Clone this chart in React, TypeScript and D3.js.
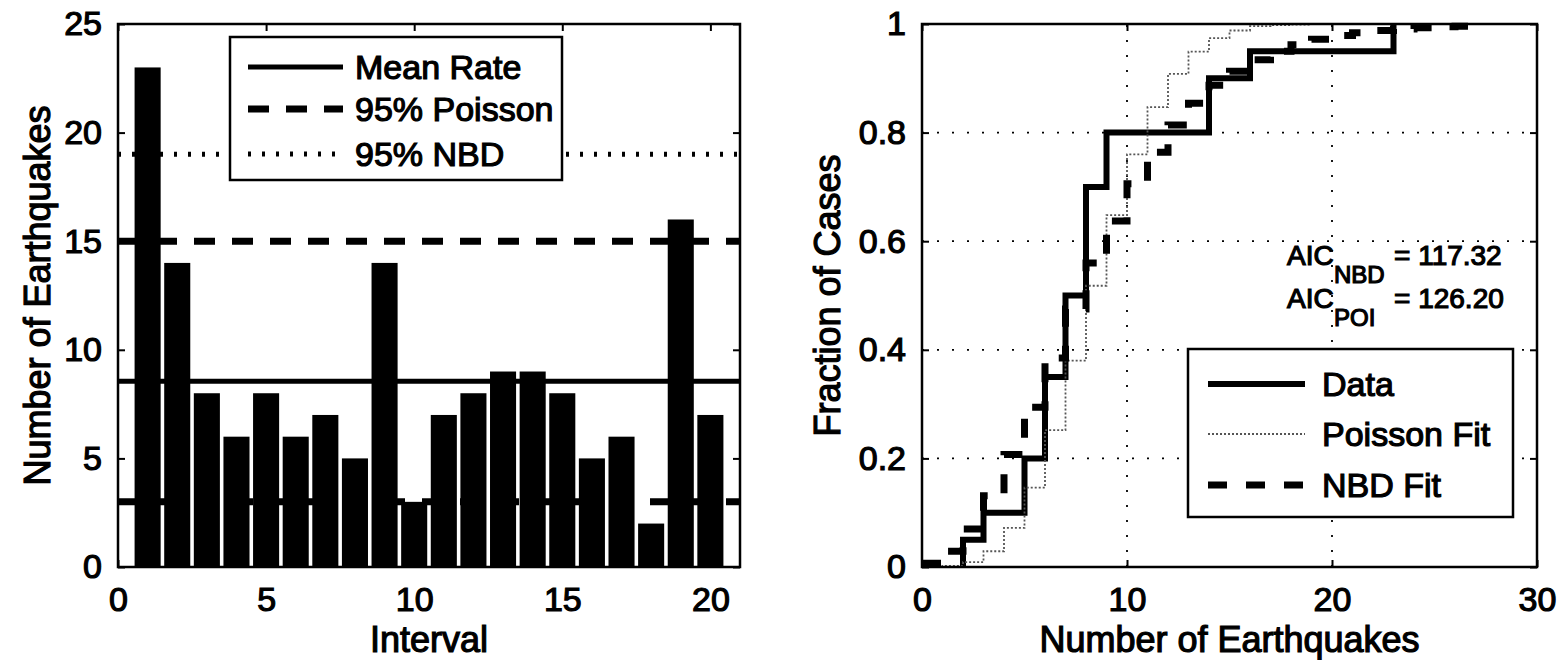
import React, { useRef, useEffect } from "react";
import * as d3 from "d3";

// left panel: earthquakes per interval
const intervals = [1, 2, 3, 4, 5, 6, 7, 8, 9, 10, 11, 12, 13, 14, 15, 16, 17, 18, 19, 20];
const counts = [23, 14, 8, 6, 8, 6, 7, 5, 14, 3, 7, 8, 9, 9, 8, 5, 6, 2, 16, 7];
const meanRate = 8.55;
const poissonBounds = [3, 15];
const nbdBounds = [19];
const leftLegend = ["Mean Rate", "95% Poisson", "95% NBD"];
const leftXTicks = [0, 5, 10, 15, 20];
const leftYTicks = [0, 5, 10, 15, 20, 25];

// right panel: cumulative fraction of cases
const fitK = [0, 1, 2, 3, 4, 5, 6, 7, 8, 9, 10, 11, 12, 13, 14, 15, 16, 17, 18, 19, 20, 21, 22, 23, 24, 25, 26, 27];
const poissonCdf = [0.0, 0.002, 0.009, 0.029, 0.072, 0.146, 0.252, 0.38, 0.518, 0.648, 0.76, 0.847, 0.908, 0.949, 0.974, 0.988, 0.996, 0.998, 0.999, 1, 1, 1, 1, 1, 1, 1, 1, 1];
const nbdCdf = [0.007, 0.029, 0.07, 0.131, 0.207, 0.294, 0.385, 0.475, 0.56, 0.637, 0.706, 0.764, 0.814, 0.854, 0.887, 0.913, 0.934, 0.95, 0.962, 0.972, 0.979, 0.984, 0.988, 0.991, 0.993, 0.995, 0.996, 0.997];
const rightLegend = ["Data", "Poisson Fit", "NBD Fit"];
const rightXTicks = [0, 10, 20, 30];
const rightYTicks = [0, 0.2, 0.4, 0.6, 0.8, 1];
const aicRows = [
  { sub: "NBD", value: "= 117.32" },
  { sub: "POI", value: "= 126.20" },
];

const FONT = "'Liberation Sans', Arial, Helvetica, sans-serif";

function App() {
  const svgRef = useRef<SVGSVGElement>(null);
  const width = 1558;
  const height = 660;

  useEffect(() => {
    const svg = d3.select(svgRef.current);
    svg.selectAll("*").remove();

    // scanned print looks heavy, so give the glyphs a thin outline
    const heavy = (sel: any) =>
      sel.attr("font-family", FONT).attr("fill", "#000").attr("stroke", "#000").attr("stroke-width", 1.2);

    // frame with inward ticks on all four sides
    const drawFrame = (x: any, y: any, xTicks: number[], yTicks: number[], yFmt: (d: any) => string) => {
      const [x0, x1] = x.range();
      const [y0, y1] = y.range();
      const g = svg.append("g");
      const ax = [
        g.append("g").attr("transform", `translate(0,${y0})`).call(d3.axisBottom(x).tickValues(xTicks).tickSizeInner(-7).tickSizeOuter(0).tickPadding(20).tickFormat(d3.format("d"))),
        g.append("g").attr("transform", `translate(0,${y1})`).call(d3.axisTop(x).tickValues(xTicks).tickSizeInner(-7).tickSizeOuter(0).tickFormat(() => "")),
        g.append("g").attr("transform", `translate(${x0},0)`).call(d3.axisLeft(y).tickValues(yTicks).tickSizeInner(-7).tickSizeOuter(0).tickPadding(16).tickFormat(yFmt)),
        g.append("g").attr("transform", `translate(${x1},0)`).call(d3.axisRight(y).tickValues(yTicks).tickSizeInner(-7).tickSizeOuter(0).tickFormat(() => "")),
      ];
      ax.forEach((a) => {
        a.select(".domain").remove();
        a.selectAll("line").attr("stroke-width", 2);
        a.selectAll("text").attr("font-size", 34).call(heavy);
      });
      g.append("rect")
        .attr("x", x0)
        .attr("y", y1)
        .attr("width", x1 - x0)
        .attr("height", y0 - y1)
        .attr("fill", "none")
        .attr("stroke", "#000")
        .attr("stroke-width", 2.5);
    };

    const legend = (box: number[], rows: string[], styles: any[], lineX: number[], textX: number, rowY: number[]) => {
      const g = svg.append("g");
      g.append("rect")
        .attr("x", box[0])
        .attr("y", box[1])
        .attr("width", box[2] - box[0])
        .attr("height", box[3] - box[1])
        .attr("fill", "#fff")
        .attr("stroke", "#000")
        .attr("stroke-width", 2.5);
      rows.forEach((label, i) => {
        const s = styles[i];
        g.append("line")
          .attr("x1", lineX[0])
          .attr("x2", lineX[1])
          .attr("y1", rowY[i])
          .attr("y2", rowY[i])
          .attr("stroke", s.color)
          .attr("stroke-width", s.width)
          .attr("stroke-dasharray", s.dash);
        g.append("text")
          .attr("x", textX)
          .attr("y", rowY[i] + 12)
          .attr("font-size", 34)
          .call(heavy)
          .text(label);
      });
    };

    // ---------- left panel ----------
    const xL = d3.scaleLinear().domain([0, 21]).range([118, 740]);
    const yL = d3.scaleLinear().domain([0, 25]).range([567, 24]);
    const barW = 0.88;

    svg
      .append("g")
      .selectAll("rect")
      .data(intervals)
      .join("rect")
      .attr("x", (d) => xL(d - barW / 2))
      .attr("width", xL(barW) - xL(0))
      .attr("y", (d, i) => yL(counts[i]))
      .attr("height", (d, i) => yL(0) - yL(counts[i]))
      .attr("fill", "#000");

    const hline = d3
      .line<number[]>()
      .x((d) => xL(d[0]))
      .y((d) => yL(d[1]));
    const addH = (v: number, color: string, w: number, dash: string) =>
      svg
        .append("path")
        .attr("d", hline([[0, v], [21, v]]))
        .attr("fill", "none")
        .attr("stroke", color)
        .attr("stroke-width", w)
        .attr("stroke-dasharray", dash);

    const leftStyles = [
      { color: "#000", width: 5, dash: "" },
      { color: "#000", width: 7, dash: "21 17" },
      { color: "#000", width: 5, dash: "3 11" },
    ];
    addH(meanRate, "#000", leftStyles[0].width, "");
    poissonBounds.forEach((v) => addH(v, "#000", leftStyles[1].width, leftStyles[1].dash));
    nbdBounds.forEach((v) => addH(v, "#000", leftStyles[2].width, leftStyles[2].dash));

    drawFrame(xL, yL, leftXTicks, leftYTicks, d3.format("d"));
    legend([230, 37, 562, 180], leftLegend, leftStyles, [248, 343], 355, [67, 109, 154]);

    svg
      .append("text")
      .attr("x", (xL.range()[0] + xL.range()[1]) / 2)
      .attr("y", 652)
      .attr("text-anchor", "middle")
      .attr("font-size", 36)
      .call(heavy)
      .text("Interval");
    svg
      .append("text")
      .attr("transform", `translate(50,${(yL.range()[0] + yL.range()[1]) / 2}) rotate(-90)`)
      .attr("text-anchor", "middle")
      .attr("font-size", 36)
      .call(heavy)
      .text("Number of Earthquakes");

    // ---------- right panel ----------
    const xR = d3.scaleLinear().domain([0, 30]).range([922, 1537]);
    const yR = d3.scaleLinear().domain([0, 1]).range([567, 24]);

    // dotted grid
    const grid = svg.append("g").attr("stroke", "#000").attr("stroke-width", 1.8).attr("stroke-dasharray", "2 13");
    rightXTicks.slice(1, -1).forEach((t) =>
      grid.append("line").attr("x1", xR(t)).attr("x2", xR(t)).attr("y1", yR(0)).attr("y2", yR(1))
    );
    rightYTicks.slice(1, -1).forEach((t) =>
      grid.append("line").attr("x1", xR(0)).attr("x2", xR(30)).attr("y1", yR(t)).attr("y2", yR(t))
    );

    // empirical CDF of the interval counts
    const sorted = counts.slice().sort(d3.ascending);
    const uniq = Array.from(new Set(sorted));
    const ecdf = [[uniq[0], 0]].concat(
      uniq.map((v) => [v, sorted.filter((c) => c <= v).length / sorted.length])
    );

    const stairs = d3
      .line<number[]>()
      .x((d) => xR(d[0]))
      .y((d) => yR(d[1]))
      .curve(d3.curveStepAfter);

    const rightStyles = [
      { color: "#000", width: 6, dash: "" },
      { color: "#555", width: 1.8, dash: "2 2" },
      { color: "#000", width: 7, dash: "19 19" },
    ];
    const series = [
      ecdf,
      fitK.map((k, i) => [k, poissonCdf[i]]),
      fitK.map((k, i) => [k, nbdCdf[i]]),
    ];
    series.forEach((s, i) =>
      svg
        .append("path")
        .attr("d", stairs(s))
        .attr("fill", "none")
        .attr("stroke", rightStyles[i].color)
        .attr("stroke-width", rightStyles[i].width)
        .attr("stroke-dasharray", rightStyles[i].dash)
    );

    drawFrame(xR, yR, rightXTicks, rightYTicks, (d) => d3.format("~g")(d));
    legend([1188, 349, 1513, 517], rightLegend, rightStyles, [1208, 1305], 1322, [384, 434, 485]);

    // AIC annotation
    aicRows.forEach((r, i) => {
      const base = 265 + i * 43;
      const t = svg.append("text").attr("y", base).attr("font-size", 28).call(heavy);
      t.append("tspan").attr("x", 1287).text("AIC");
      t.append("tspan").attr("x", 1334).attr("dy", 18).attr("font-size", 24).text(r.sub);
      t.append("tspan").attr("x", 1394).attr("dy", -18).text(r.value);
    });

    svg
      .append("text")
      .attr("x", (xR.range()[0] + xR.range()[1]) / 2)
      .attr("y", 652)
      .attr("text-anchor", "middle")
      .attr("font-size", 36)
      .call(heavy)
      .text("Number of Earthquakes");
    svg
      .append("text")
      .attr("transform", `translate(840,${(yR.range()[0] + yR.range()[1]) / 2}) rotate(-90)`)
      .attr("text-anchor", "middle")
      .attr("font-size", 36)
      .call(heavy)
      .text("Fraction of Cases");
  }, []);

  return (
    <div style={{ position: "absolute", left: 0, top: 0, background: "#fff" }}>
      <svg ref={svgRef} width={width} height={height} />
    </div>
  );
}

export default App;
